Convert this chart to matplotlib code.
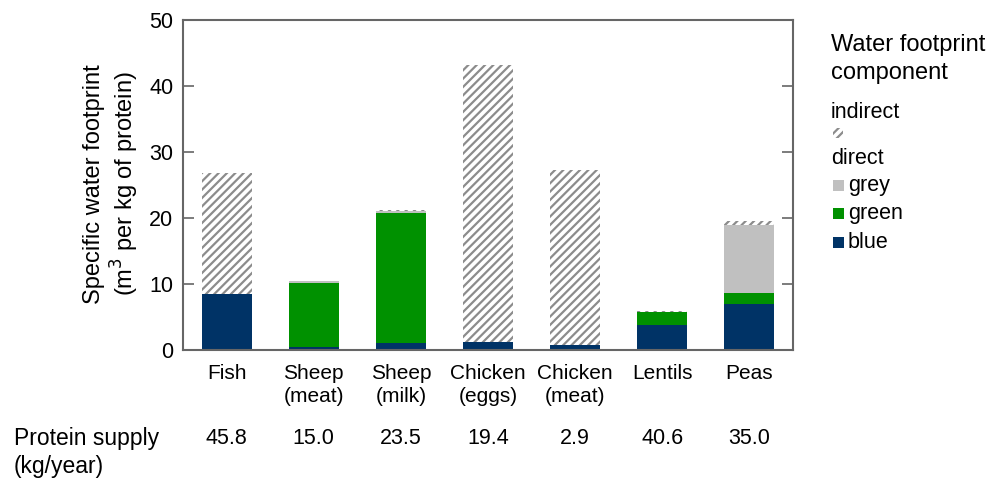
import matplotlib
matplotlib.use("Agg")
import matplotlib.pyplot as plt
from matplotlib.patches import Rectangle
import numpy as np

plt.rcParams['font.family'] = ['Liberation Sans', 'DejaVu Sans']
plt.rcParams['hatch.linewidth'] = 1.6

categories = ["Fish", "Sheep\n(meat)", "Sheep\n(milk)", "Chicken\n(eggs)",
              "Chicken\n(meat)", "Lentils", "Peas"]
blue = [8.5, 0.5, 1.0, 1.2, 0.8, 3.8, 6.9]
green = [0.0, 9.7, 19.7, 0.0, 0.0, 2.0, 1.8]
grey = [0.0, 0.2, 0.4, 0.0, 0.0, 0.0, 10.3]
indirect = [18.3, 0.1, 0.1, 42.0, 26.4, 0.1, 0.5]
protein_supply = ["45.8", "15.0", "23.5", "19.4", "2.9", "40.6", "35.0"]

c_blue = "#003366"
c_green = "#009100"
c_grey = "#c0c0c0"
c_hatch = "#8c8c8c"
spine_c = "#666666"

fig = plt.figure(figsize=(9.9, 4.84), dpi=100)
ax = fig.add_axes([183/990, 1-350/484, 610/990, 330/484])

x = np.arange(len(categories))
w = 0.575
b = np.zeros(len(x))
ax.bar(x, blue, w, bottom=b, color=c_blue, linewidth=0)
b += blue
ax.bar(x, green, w, bottom=b, color=c_green, linewidth=0)
b += green
ax.bar(x, grey, w, bottom=b, color=c_grey, linewidth=0)
b += grey
ax.bar(x, indirect, w, bottom=b, color="white", edgecolor=c_hatch,
       hatch="////", linewidth=0)

ax.set_xlim(-0.5, len(x)-0.5)
ax.set_ylim(0, 50)
ax.set_yticks([0, 10, 20, 30, 40, 50])
ax.set_xticks(x)
ax.set_xticklabels(categories, fontsize=15, linespacing=1.3, va='top')
ax.tick_params(axis='x', length=0, pad=10)
ax.tick_params(axis='y', direction='in', length=8, width=1.2, color=spine_c,
               labelsize=15.5, right=True, pad=7)
for s in ax.spines.values():
    s.set_color(spine_c)
    s.set_linewidth(1.5)

fig.text(112/990, 1-184/484, "Specific water footprint\n(m$^3$ per kg of protein)",
         fontsize=17, linespacing=1.15, rotation=90, ha='center', va='center')

# Protein supply row
fig.text(14/990, 1-438/484, "Protein supply", fontsize=16.5, va='center', ha='left')
fig.text(14/990, 1-466/484, "(kg/year)", fontsize=16.5, va='center', ha='left')
for xi, v in zip(x, protein_supply):
    xf = ax.transData.transform((xi, 0))[0] / fig.bbox.width
    fig.text(xf, 1-438/484, v, fontsize=15.5, va='center', ha='center')

# Legend
lx = 831/990
fig.text(lx, 1-45/484, "Water footprint", fontsize=17, va='center', ha='left')
fig.text(lx, 1-73/484, "component", fontsize=17, va='center', ha='left')
fig.text(lx, 1-113/484, "indirect", fontsize=15.5, va='center', ha='left')
fig.text(lx, 1-158/484, "direct", fontsize=15.5, va='center', ha='left')

def swatch(y, color, hatch=None, size=11):
    r = Rectangle((833/990, 1-(y+size/2)/484), size/990, size/484,
                  transform=fig.transFigure, facecolor=color,
                  edgecolor=c_hatch if hatch else 'none', hatch=hatch,
                  linewidth=0)
    fig.add_artist(r)

swatch(133, "white", hatch="////", size=10)
for y, col, lab in [(185, c_grey, "grey"), (213, c_green, "green"), (242, c_blue, "blue")]:
    swatch(y, col, size=11)
    fig.text(848/990, 1-y/484, lab, fontsize=15.5, va='center', ha='left')

fig.savefig("out.png", dpi=100)
